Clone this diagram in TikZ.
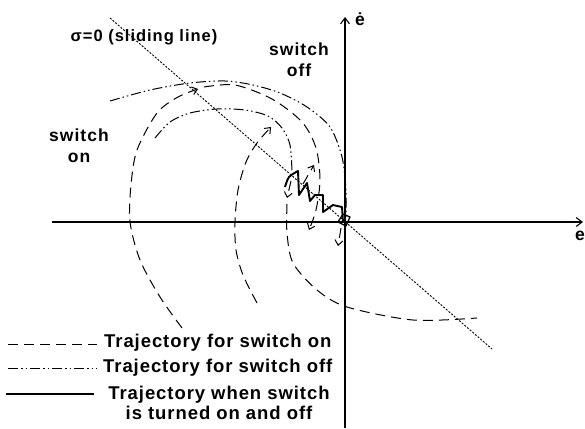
\documentclass[tikz,border=0pt]{standalone}
\usepackage{fontspec}
\newfontfamily\lblfont{Liberation Sans}[LetterSpace=6]
\newfontfamily\legfont{Liberation Sans}[LetterSpace=5]
\usetikzlibrary{arrows.meta}

\begin{document}
\begin{tikzpicture}[
    x=1pt, y=-1pt,
    lbl/.style={font=\lblfont\bfseries\fontsize{17.5}{21}\selectfont, inner sep=0pt, align=center},
    leg/.style={font=\legfont\bfseries\fontsize{18.5}{20}\selectfont, inner sep=0pt, align=center},
    axis/.style={line width=1.1pt, -{Straight Barb[length=6pt, width=9pt]}},
    swon/.style={line width=1pt, dash pattern=on 10pt off 6pt},
    swoff/.style={line width=1pt, dash pattern=on 10pt off 3pt on 1.5pt off 3pt on 1.5pt off 3pt},
    slide/.style={line width=0.9pt, dash pattern=on 2pt off 1.5pt},
    chatter/.style={line width=1.9pt, line join=round},
    tip/.style={-{Straight Barb[length=5pt, width=8pt]}}
]
\useasboundingbox (0,0) rectangle (585,428);

% axes
\coordinate (xl) at (52,222);
\coordinate (xr) at (583,222);
\coordinate (yb) at (345,428);
\coordinate (yt) at (345,17);
\draw[axis] (xl) -- (xr);
\draw[axis] (yb) -- (yt);
\node[lbl, anchor=east] (ex) at (585,236) {e};
\node[lbl] (edot) at (360,19) {ė};

% sliding line
\coordinate (sl1) at (110,18);
\coordinate (sl2) at (492,349);
\draw[slide] (sl1) -- (sl2);
\node[lbl, font=\lblfont\bfseries\fontsize{16.5}{20}\selectfont] (sigma) at (144,37) {σ=0 (sliding line)};

\node[lbl] (off) at (299,60) {switch\\off};
\node[lbl] (on) at (79,146) {switch\\on};

% switch-off trajectories
\draw[swoff] plot[smooth] coordinates {(110,101) (150,90) (190,83) (225,81) (253,85) (280,93) (307,107) (330,127) (342,157) (346,190) (346,218)};
\draw[swoff] plot[smooth] coordinates {(155,138) (170,122) (190,113) (217,109) (245,110) (268,116) (282,128) (290,145) (292,172)};

% switch-on trajectories
\draw[swon, tip] plot[smooth] coordinates {(182,328) (160,297) (140,260) (130,222) (131,185) (137,150) (157,113) (178,97) (198,89)};
\draw[swon, tip] plot[smooth] coordinates {(204,87) (235,85) (272,99) (302,122) (316,148) (320,180) (316,210) (309,230)};
\draw[swon, tip] plot[smooth] coordinates {(257,303) (243,275) (236,250) (235,222) (238,190) (246,162) (257,143) (271,127)};
\draw[swon, tip] (291,181) -- (287,198);
\draw[swon] plot[smooth] coordinates {(287,204) (287,233) (293,263) (317,290) (347,307) (413,320) (477,318)};
\draw[swon, tip] (303,184) -- (314,165);
\draw[swon, tip] (341,228) -- (338,246);

% chattering along the sliding line
\draw[chatter] plot[smooth] coordinates {(285,187) (289,177) (298,171)} -- (299,195) -- (307,183) -- (310,201)
    -- (315,195) -- (323,195) -- (323,212) -- (333,205) -- (342,207) -- (343,222);
\draw[chatter, line width=1.3pt] (338,222) -- (343,214) -- (350,217) -- (346,226) -- cycle;

% legend
\node[leg, anchor=west] (legon) at (104,343) {Trajectory for switch on};
\node[leg, anchor=west] (legoff) at (103,368) {Trajectory for switch off};
\node[leg] (legboth) at (219,403) {Trajectory when switch\\is turned on and off};
\draw[swon] (8,344) -- (97,344);
\draw[swoff] (8,368) -- (97,368);
\draw[line width=1.1pt] (6,394) -- (94,394);
\end{tikzpicture}
\end{document}
